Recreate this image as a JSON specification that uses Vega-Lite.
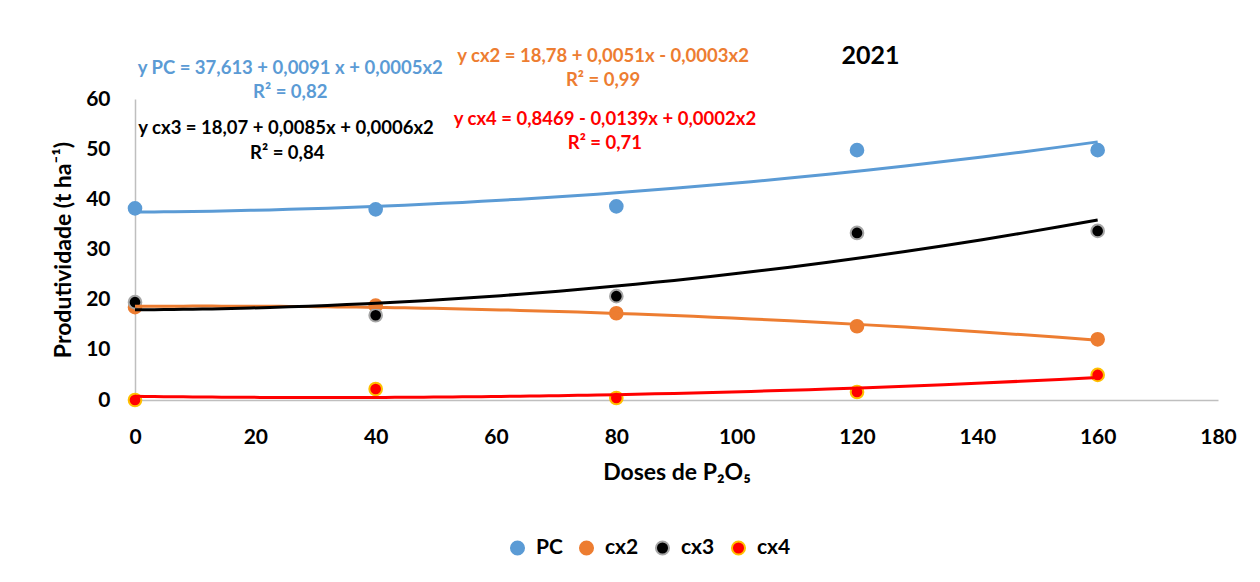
{
  "$schema": "https://vega.github.io/schema/vega-lite/v6.json",
  "width": 1083,
  "height": 301,
  "autosize": {"type": "none"},
  "padding": {"left": 135, "top": 99, "right": 42, "bottom": 182},
  "background": "white",
  "config": {
    "font": "Lato",
    "view": {"stroke": null},
    "axis": {
      "domainColor": "#BFBFBF",
      "domainWidth": 1.5,
      "ticks": false,
      "grid": false,
      "labelFlush": false,
      "labelFontSize": 21,
      "labelFontWeight": "bold",
      "labelColor": "black",
      "titleFontSize": 23,
      "titleFontWeight": "bold",
      "titleColor": "black"
    }
  },
  "title": {
    "text": "2021",
    "fontSize": 25,
    "fontWeight": "bold",
    "color": "black",
    "dx": 194,
    "offset": 36,
    "dy": 58
  },
  "datasets": {
    "obs": [
      {"series": "PC", "x": 0, "y": 38.2},
      {"series": "PC", "x": 40, "y": 38.0},
      {"series": "PC", "x": 80, "y": 38.6},
      {"series": "PC", "x": 120, "y": 49.8},
      {"series": "PC", "x": 160, "y": 49.8},
      {"series": "cx2", "x": 0, "y": 18.5},
      {"series": "cx2", "x": 40, "y": 18.8},
      {"series": "cx2", "x": 80, "y": 17.3},
      {"series": "cx2", "x": 120, "y": 14.7},
      {"series": "cx2", "x": 160, "y": 12.1},
      {"series": "cx3", "x": 0, "y": 19.5},
      {"series": "cx3", "x": 40, "y": 16.9},
      {"series": "cx3", "x": 80, "y": 20.7},
      {"series": "cx3", "x": 120, "y": 33.3},
      {"series": "cx3", "x": 160, "y": 33.7},
      {"series": "cx4", "x": 0, "y": 0.0},
      {"series": "cx4", "x": 40, "y": 2.2},
      {"series": "cx4", "x": 80, "y": 0.4},
      {"series": "cx4", "x": 120, "y": 1.6},
      {"series": "cx4", "x": 160, "y": 5.0}
    ],
    "notes": [
      {"series": "PC", "text": "y PC = 37,613 + 0,0091 x + 0,0005x2", "x": 25.8, "y": 66.2},
      {"series": "PC", "text": "R² = 0,82", "x": 25.8, "y": 61.4},
      {"series": "cx2", "text": "y  cx2 = 18,78 + 0,0051x - 0,0003x2", "x": 77.8, "y": 68.6},
      {"series": "cx2", "text": "R² = 0,99", "x": 77.8, "y": 63.8},
      {"series": "cx3", "text": "y cx3 = 18,07 + 0,0085x + 0,0006x2", "x": 25.1, "y": 54.2},
      {"series": "cx3", "text": "R² = 0,84", "x": 25.3, "y": 49.2},
      {"series": "cx4", "text": "y cx4 = 0,8469 - 0,0139x + 0,0002x2", "x": 78.1, "y": 56.0},
      {"series": "cx4", "text": "R² = 0,71", "x": 78.1, "y": 51.2}
    ]
  },
  "layer": [
    {
      "data": {"name": "obs"},
      "mark": {"type": "point", "filled": true, "size": 160, "strokeWidth": 2, "opacity": 1},
      "encoding": {
        "x": {"field": "x", "type": "quantitative", "scale": {"domain": [0, 180], "nice": false}, "axis": {"values": [0, 20, 40, 60, 80, 100, 120, 140, 160, 180], "title": "Doses de P₂O₅", "labelPadding": 26, "titlePadding": 14}},
        "y": {"field": "y", "type": "quantitative", "scale": {"domain": [0, 60], "nice": false}, "axis": {"values": [0, 10, 20, 30, 40, 50, 60], "title": "Produtividade (t ha⁻¹)", "labelPadding": 25, "titlePadding": 10}},
        "fill": {"field": "series", "type": "nominal", "scale": {"domain": ["PC", "cx2", "cx3", "cx4"], "range": ["#5B9BD5", "#ED7D31", "#000000", "#FF0000"]},
          "legend": {"title": null, "orient": "none", "direction": "horizontal", "legendX": 372, "legendY": 438, "labelFontSize": 21, "labelFontWeight": "bold", "labelColor": "black", "symbolSize": 170, "symbolStrokeWidth": 2, "columnPadding": 12, "labelOffset": 8}},
        "stroke": {"field": "series", "type": "nominal", "scale": {"domain": ["PC", "cx2", "cx3", "cx4"], "range": ["#5B9BD5", "#ED7D31", "#A6A6A6", "#FFC000"]}}
      }
    },
    {
      "data": {"name": "obs"},
      "transform": [
        {"regression": "y", "on": "x", "groupby": ["series"], "method": "poly", "order": 2, "extent": [0, 160]}
      ],
      "mark": {"type": "line", "strokeWidth": 3},
      "encoding": {
        "x": {"field": "x", "type": "quantitative"},
        "y": {"field": "y", "type": "quantitative"},
        "color": {"field": "series", "type": "nominal", "scale": {"domain": ["PC", "cx2", "cx3", "cx4"], "range": ["#5B9BD5", "#ED7D31", "#000000", "#FF0000"]}, "legend": null}
      }
    },
    {
      "data": {"name": "notes"},
      "mark": {"type": "text", "fontWeight": "bold", "fontSize": 18.5, "align": "center", "baseline": "middle"},
      "encoding": {
        "x": {"field": "x", "type": "quantitative"},
        "y": {"field": "y", "type": "quantitative"},
        "text": {"field": "text"},
        "color": {"field": "series", "type": "nominal", "legend": null}
      }
    }
  ]
}
